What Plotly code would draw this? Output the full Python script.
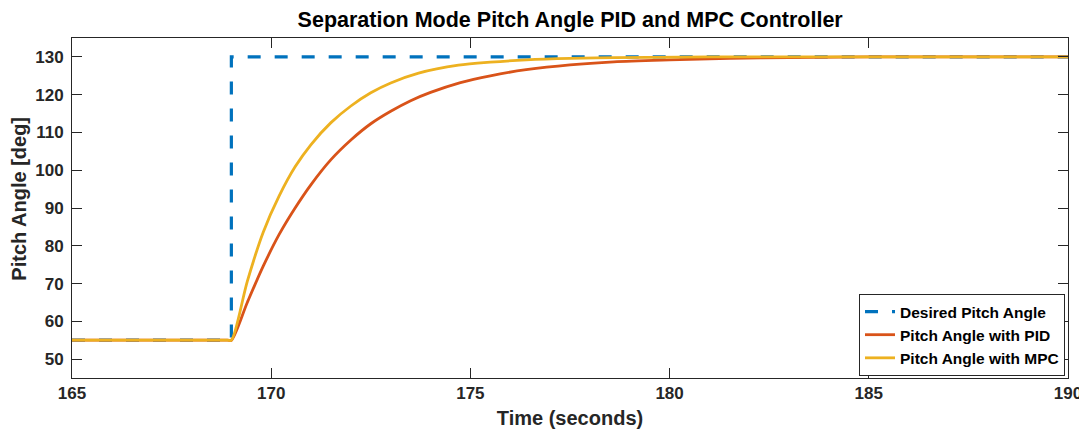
import plotly.graph_objects as go

# Desired (reference) pitch angle
desired_t = [165, 169, 169, 190]
desired_v = [55, 55, 130, 130]

# Pitch angle with PID
pid_t = [165, 168.9, 169.0, 169.4, 169.8, 170.2, 170.6, 171.0, 171.5, 172.0, 172.5,
         173.0, 173.5, 174.0, 174.75, 175.5, 176.4, 177.5, 178.6, 180.0, 181.5, 183.0, 185.0, 190.0]
pid_v = [55, 55, 55, 65.0, 74.6, 83.0, 90.0, 96.2, 102.8, 108.0, 112.3,
         115.6, 118.4, 120.6, 123.2, 125.0, 126.6, 127.9, 128.7, 129.2, 129.6, 129.8, 130, 130]

# Pitch angle with MPC
mpc_t = [165, 168.9, 169.0, 169.4, 169.8, 170.2, 170.6, 171.0, 171.5, 172.0, 172.5,
         173.0, 173.7, 174.7, 175.5, 176.4, 177.5, 178.6, 181.0, 190.0]
mpc_v = [55, 55, 55, 70.6, 83.6, 93.2, 100.9, 106.8, 112.6, 117.0, 120.5,
         123.1, 125.7, 127.8, 128.6, 129.2, 129.6, 129.8, 130, 130]

x_ticks = [165, 170, 175, 180, 185, 190]
y_ticks = [50, 60, 70, 80, 90, 100, 110, 120, 130]

FONT = "Liberation Sans, Arial, sans-serif"
TXT = "#262626"

fig = go.Figure()
fig.add_trace(go.Scatter(x=desired_t, y=desired_v, mode="lines", name="Desired Pitch Angle",
                         line=dict(color="#0072BD", width=3.2, dash="13px,14px")))
fig.add_trace(go.Scatter(x=pid_t, y=pid_v, mode="lines", name="Pitch Angle with PID",
                         line=dict(color="#D95319", width=2.8, shape="spline", smoothing=0.8)))
fig.add_trace(go.Scatter(x=mpc_t, y=mpc_v, mode="lines", name="Pitch Angle with MPC",
                         line=dict(color="#EDB120", width=2.8, shape="spline", smoothing=0.8)))

axis_common = dict(showgrid=False, zeroline=False, showline=True, mirror="ticks",
                   linecolor=TXT, linewidth=1, ticks="inside", ticklen=10,
                   tickcolor=TXT, tickwidth=1, automargin=False,
                   tickfont=dict(family=FONT, size=17, color=TXT, weight="bold"))

# The page body has an 8px margin, so the figure is sized to fit the window.
W, H = 1079, 424
fig.update_layout(
    width=W, height=H,
    margin=dict(l=64, r=19, t=30, b=54, autoexpand=False),
    paper_bgcolor="white", plot_bgcolor="white",
    title=dict(text="Separation Mode Pitch Angle PID and MPC Controller",
               x=0.521, xanchor="center", y=0.972, yanchor="middle",
               font=dict(family=FONT, size=21.5, color="black", weight="bold")),
    xaxis=dict(range=[165, 190], tickvals=x_ticks,
               title=dict(text="Time (seconds)", standoff=8,
                          font=dict(family=FONT, size=20, color=TXT, weight="bold")),
               **axis_common),
    yaxis=dict(range=[45, 135], tickvals=y_ticks, ticklabelstandoff=4,
               **axis_common),
    annotations=[dict(text="Pitch Angle [deg]", textangle=-90, xref="paper", yref="paper",
                      x=-0.0527, y=0.526, xanchor="center", yanchor="middle",
                      showarrow=False,
                      font=dict(family=FONT, size=20, color=TXT, weight="bold"))],
    legend=dict(x=0.997, y=0.006, xanchor="right", yanchor="bottom",
                bgcolor="white", bordercolor=TXT, borderwidth=1,
                font=dict(family=FONT, size=15.5, color="black", weight="bold"),
                tracegroupgap=0, itemwidth=30),
    showlegend=True,
)

fig.write_html("out.html")
